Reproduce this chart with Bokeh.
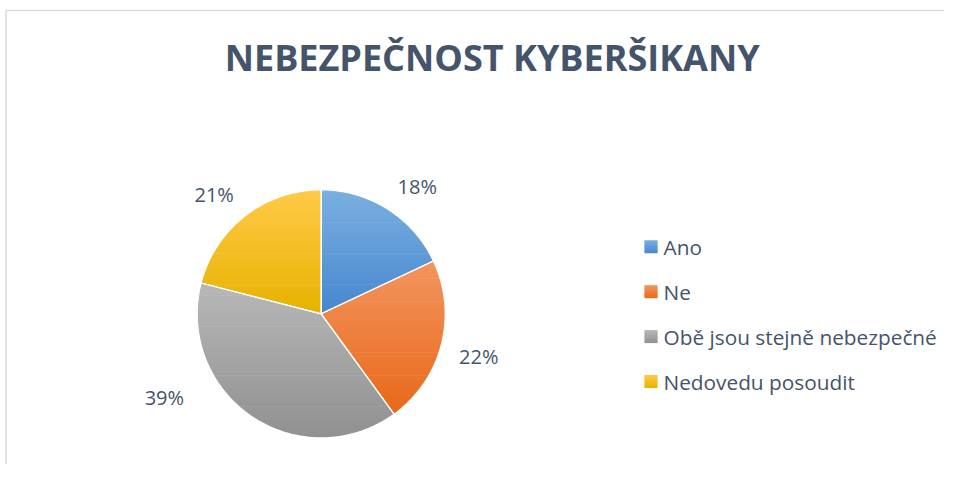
import math
from bokeh.plotting import figure
from bokeh.models import Range1d
from bokeh.core.properties import value
from bokeh.embed import file_html
from bokeh.resources import INLINE

# ---------------- data ----------------
title_text = "NEBEZPEČNOST KYBERŠIKANY"
categories = ["Ano", "Ne", "Obě jsou stejně nebezpečné", "Nedovedu posoudit"]
percent = [18, 22, 39, 21]
pct_labels = ["18%", "22%", "39%", "21%"]
top_colors = ["#7BAFE0", "#F3955E", "#B8B8B8", "#FFCA48"]
bottom_colors = ["#4787CF", "#E8681A", "#909090", "#E6B200"]

# ---------------- layout helpers ----------------
W, H = 944, 464
TEXT = "#44546A"
FONT = "Open Sans"


def dx(px):
    return px


def dy(py):
    return H - py


def hex2rgb(h):
    h = h.lstrip("#")
    return tuple(int(h[i:i + 2], 16) for i in (0, 2, 4))


def mix(c_bot, c_top, t):
    a, b = hex2rgb(c_bot), hex2rgb(c_top)
    return "#%02x%02x%02x" % tuple(int(round(a[k] + (b[k] - a[k]) * t)) for k in range(3))


def clip(poly, y, keep_above):
    out = []
    n = len(poly)
    for i in range(n):
        P, Q = poly[i], poly[(i + 1) % n]
        pin = P[1] >= y if keep_above else P[1] <= y
        qin = Q[1] >= y if keep_above else Q[1] <= y
        if pin:
            out.append(P)
        if pin != qin:
            t = (y - P[1]) / (Q[1] - P[1])
            out.append((P[0] + t * (Q[0] - P[0]), y))
    return out


def gradient_strips(poly, c_top, c_bot, n, xs, ys, cols):
    ymin = min(q[1] for q in poly)
    ymax = max(q[1] for q in poly)
    h = (ymax - ymin) / n
    for i in range(n):
        lo = ymin + i * h
        hi = min(lo + h + 0.7, ymax)
        part = clip(clip(poly, lo, True), hi, False)
        if len(part) < 3:
            continue
        xs.append([q[0] for q in part])
        ys.append([q[1] for q in part])
        cols.append(mix(c_bot, c_top, (i + 0.5) / n))


p = figure(width=W, height=H, output_backend="svg", toolbar_location=None,
           x_range=Range1d(0, W), y_range=Range1d(0, H),
           x_axis_type=None, y_axis_type=None, min_border=0,
           outline_line_color=None, background_fill_color="white",
           border_fill_color="white")
p.grid.visible = False

# chart border (left & top, rest is cut off in the reference)
p.line(x=[dx(5.5), dx(5.5)], y=[0, dy(10)], line_color="#D9D9D9", line_width=1.5)
p.line(x=[dx(5.5), W], y=[dy(10), dy(10)], line_color="#D9D9D9", line_width=1.5)

# title
p.text(x=[dx(491.7)], y=[dy(57)], text=[title_text], text_font=value(FONT),
       text_font_style="bold", text_font_size="36px", text_color=TEXT,
       text_align="center", text_baseline="middle")

# ---------------- pie ----------------
cx, cy, R = dx(320.7), dy(313.3), 124.0
total = float(sum(percent))
polys = []
mids = []
cum = 0.0
for v in percent:
    a0 = 90 - 360 * cum / total
    cum += v
    a1 = 90 - 360 * cum / total
    steps = max(8, int(abs(a0 - a1) / 1.5))
    pts = [(cx, cy)]
    for k in range(steps + 1):
        a = math.radians(a0 + (a1 - a0) * k / steps)
        pts.append((cx + R * math.cos(a), cy + R * math.sin(a)))
    polys.append(pts)
    mids.append(math.radians((a0 + a1) / 2))

xs, ys, cols = [], [], []
for i, poly in enumerate(polys):
    gradient_strips(poly, top_colors[i], bottom_colors[i], 60, xs, ys, cols)
p.patches(xs=xs, ys=ys, fill_color=cols, line_color=None)
p.patches(xs=[[q[0] for q in poly] for poly in polys],
          ys=[[q[1] for q in poly] for poly in polys],
          fill_color=None, line_color="white", line_width=1.2)

# data labels (outside end)
label_nudge = [(0, 0), (0, 0), (-57, 41), (0, 0)]
lx, ly = [], []
for i, m in enumerate(mids):
    c, s = math.cos(m), math.sin(m)
    x = cx + (R + 18) * c + math.copysign(20, c)
    y = cy + (R + 18) * s + math.copysign(7.5, s)
    lx.append(x + label_nudge[i][0])
    ly.append(y + label_nudge[i][1])
p.text(x=lx, y=ly, text=pct_labels, text_font=value(FONT), text_font_size="20px",
       text_color=TEXT, text_align="center", text_baseline="middle")

# ---------------- legend ----------------
lxs, lys, lcols = [], [], []
key_x, key_y0, key_step, key_s = dx(650.5), dy(246.3), 44.9, 13.0
tx, ty = [], []
for i, name in enumerate(categories):
    yc = key_y0 - i * key_step
    sq = [(key_x - key_s / 2, yc - key_s / 2), (key_x + key_s / 2, yc - key_s / 2),
          (key_x + key_s / 2, yc + key_s / 2), (key_x - key_s / 2, yc + key_s / 2)]
    gradient_strips(sq, top_colors[i], bottom_colors[i], 10, lxs, lys, lcols)
    tx.append(dx(663))
    ty.append(yc)
p.patches(xs=lxs, ys=lys, fill_color=lcols, line_color=None)
p.text(x=tx, y=ty, text=categories, text_font=value(FONT), text_font_size="20.8px",
       text_color=TEXT, text_align="left", text_baseline="middle")

open("out.html", "w").write(file_html(p, INLINE))
